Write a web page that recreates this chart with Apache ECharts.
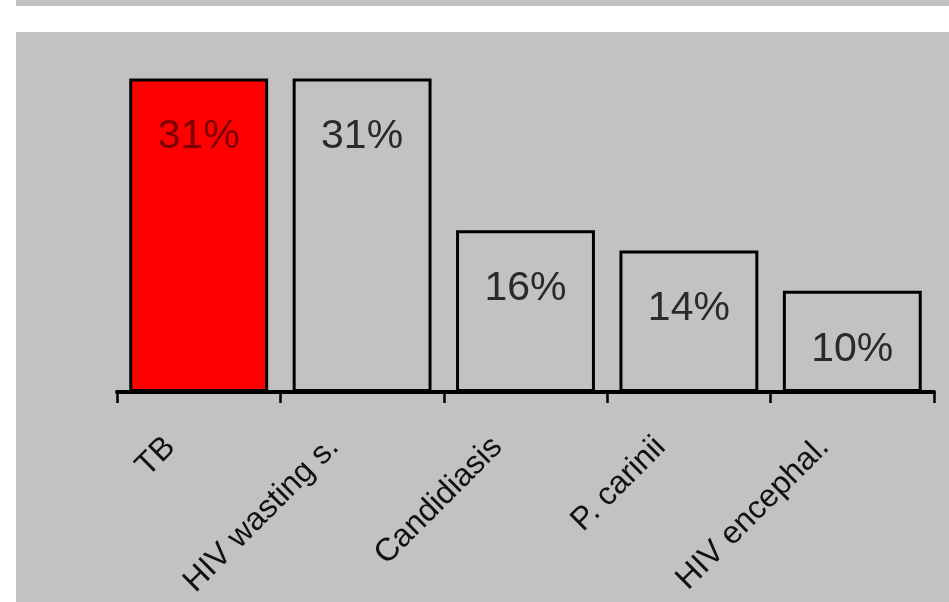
<!DOCTYPE html>
<html>
<head>
<meta charset="utf-8">
<script src="https://cdn.jsdelivr.net/npm/echarts@6/dist/echarts.min.js"></script>
<style>
  html, body { margin: 0; padding: 0; background: #ffffff; }
  #chart { width: 949px; height: 602px; }
</style>
</head>
<body>
<div id="chart"></div>
<script>
// Causes of death (share of cases, %)
const categories = ['TB', 'HIV wasting s.', 'Candidiasis', 'P. carinii', 'HIV encephal.'];
const shares = [31, 31, 16, 14, 10];
const highlightIndex = 0;

const panelGray = '#c2c2c2';

const chart = echarts.init(document.getElementById('chart'), null, { renderer: 'canvas' });

const barData = shares.map((v, i) => ({
  value: v,
  itemStyle: { color: i === highlightIndex ? '#ff0000' : panelGray },
  label: { color: i === highlightIndex ? '#7a0000' : '#2a2a2a' }
}));

chart.setOption({
  animation: false,
  backgroundColor: '#ffffff',
  graphic: [
    { type: 'rect', z: -10, shape: { x: 16, y: 0, width: 933, height: 6 }, style: { fill: panelGray } },
    { type: 'rect', z: -10, shape: { x: 16, y: 32, width: 933, height: 570 }, style: { fill: panelGray } }
  ],
  grid: { left: 117, right: 15, top: 38, bottom: 210, containLabel: false },
  xAxis: {
    type: 'category',
    data: categories,
    boundaryGap: true,
    axisLine: { show: true, lineStyle: { color: '#000000', width: 4 } },
    axisTick: { show: true, alignWithLabel: false, length: 11, lineStyle: { color: '#000000', width: 2.5 } },
    axisLabel: {
      interval: 0,
      rotate: 45,
      margin: 22,
      padding: [0, 40, 0, 0],
      fontFamily: 'Liberation Sans, Arial, sans-serif',
      fontSize: 32,
      color: '#111111'
    }
  },
  yAxis: {
    type: 'value',
    min: 0,
    max: 35,
    show: false,
    splitLine: { show: false }
  },
  series: [{
    type: 'bar',
    data: barData,
    barWidth: '85%',
    itemStyle: { borderColor: '#000000', borderWidth: 3 },
    label: {
      show: true,
      position: 'insideTop',
      distance: 38,
      formatter: p => p.value + '%',
      fontFamily: 'Liberation Sans, Arial, sans-serif',
      fontSize: 41
    }
  }]
});
</script>
</body>
</html>
